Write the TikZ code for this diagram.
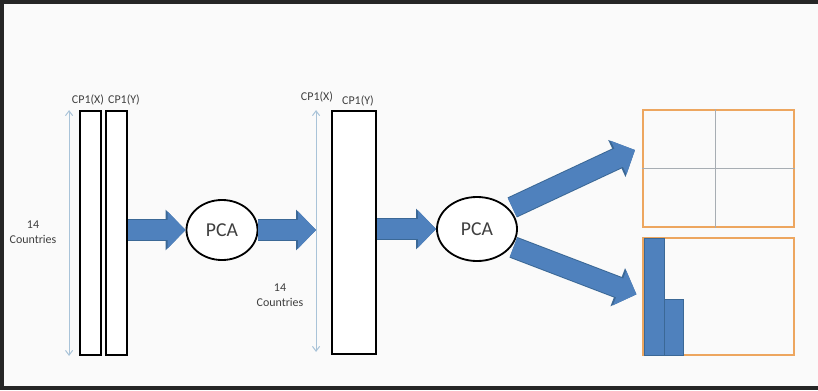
\documentclass[tikz,border=0pt]{standalone}
\usepackage{fontspec}
\setmainfont{Carlito}
\usepackage{tikz}
\usetikzlibrary{arrows.meta}
\usetikzlibrary{calc}
\usetikzlibrary{shapes.geometric}
\definecolor{pcablue}{HTML}{4F81BD}
\definecolor{pcaedge}{HTML}{3B6896}
\definecolor{dimblue}{HTML}{A9C3D8}
\definecolor{plotorange}{HTML}{EDA65F}
\definecolor{gridgray}{HTML}{A7ADB3}
\definecolor{framegray}{HTML}{262626}
\definecolor{paper}{HTML}{FAFAFA}
\definecolor{labelgray}{HTML}{3F3F3F}

\begin{document}
\begin{tikzpicture}[x=0.025cm,y=-0.025cm,
  column/.style={shape=rectangle,draw=black,line width=1.3pt,fill=white,inner sep=0pt,minimum width=0.525cm,minimum height=6.1cm},
  pca/.style={shape=ellipse,draw=black,line width=1.3pt,fill=white,inner sep=0pt,font=\fontsize{14}{16}\selectfont,text=labelgray},
  panel/.style={shape=rectangle,draw=plotorange,line width=1.3pt,inner sep=0pt,minimum width=3.775cm,minimum height=2.925cm},
  histbar/.style={shape=rectangle,fill=pcablue,draw=pcaedge,line width=0.5pt,inner sep=0pt,minimum width=0.5cm},
  lbl/.style={inner sep=0pt,font=\fontsize{8.5}{11}\selectfont,text=labelgray,align=center},
  dimarrow/.style={draw=dimblue,line width=0.7pt,{Straight Barb[length=1.2mm,width=1.8mm]}-{Straight Barb[length=1.2mm,width=1.8mm]}},
  blockarrow/.style={draw=pcablue,line width=0.5cm,-{Triangle[length=0.45cm,width=0.9cm]},
    preaction={draw=pcaedge,line width=0.55cm,-{Triangle[length=0.5cm,width=0.99cm]}}}]
\useasboundingbox (0,0) rectangle (818,390);
\fill[paper] (0,0) rectangle (818,390);
\draw[framegray,line width=0.1cm] (818,2) -- (2,2) -- (2,388) -- (818,388);

\draw (90.5,233) node (barx) [column] {};
\draw (116.5,233) node (bary) [column] {};
\draw (88,100) node (lblx) [lbl] {CP1(X)};
\draw (124,100) node (lbly) [lbl] {CP1(Y)};
\draw (33,232) node (rowsa) [lbl] {14\\Countries};
\draw[dimarrow] ([xshift=-0.25cm]barx.north west) -- ([xshift=-0.25cm]barx.south west);

\draw (222,230) node (pcaa) [pca,minimum width=1.775cm,minimum height=1.5cm] {PCA};

\draw (354,232.5) node (scores) [column,minimum width=1.1cm,minimum height=6.075cm] {};
\draw (317,97) node (lblsx) [lbl] {CP1(X)};
\draw (358,101) node (lblsy) [lbl] {CP1(Y)};
\draw (280,295) node (rowsb) [lbl] {14\\Countries};
\draw[dimarrow] ([xshift=-0.375cm]scores.north west) -- ([xshift=-0.375cm,yshift=0.075cm]scores.south west);

\draw (477,229) node (pcab) [pca,minimum width=2cm,minimum height=1.6cm] {PCA};

\draw (718.5,168.5) node (plot) [panel] {};
\draw[gridgray,line width=0.8pt] ($(plot.north)+(-3,0)$) -- ($(plot.south)+(-3,0)$);
\draw[gridgray,line width=0.8pt] (plot.west) -- (plot.east);

\draw (718.5,296.5) node (bars) [panel] {};
\draw (654,296.5) node (bara) [histbar,minimum height=2.925cm] {};
\draw (673.5,327) node (barb) [histbar,minimum width=0.475cm,minimum height=1.4cm] {};

\coordinate (plottip) at (635,150);

\draw[blockarrow] (bary.east |- pcaa.west) -- (pcaa.west);
\draw[blockarrow,shorten >=0.375cm] (pcaa.east) -- (scores.west |- pcaa.east);
\draw[blockarrow] (scores.east |- pcab.west) -- (pcab.west);
\draw[blockarrow,shorten <=0.08cm] (pcab.32) -- (plottip);
\draw[blockarrow,shorten <=0.05cm,shorten >=0.15cm] (pcab.-27) -- (bars.west);
\end{tikzpicture}
\end{document}
